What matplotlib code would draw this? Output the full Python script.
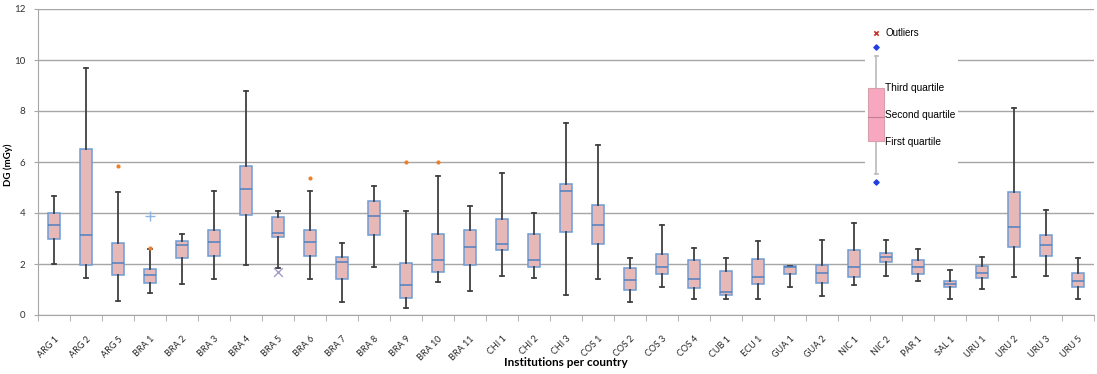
import numpy as np
import matplotlib.pyplot as plt

# Institutions and dose box statistics (mGy)
labels = ["ARG 1", "ARG 2", "ARG 5", "BRA 1", "BRA 2", "BRA 3", "BRA 4", "BRA 5", "BRA 6",
          "BRA 7", "BRA 8", "BRA 9", "BRA 10", "BRA 11", "CHI 1", "CHI 2", "CHI 3", "COS 1",
          "COS 2", "COS 3", "COS 4", "CUB 1", "ECU 1", "GUA 1", "GUA 2", "NIC 1", "NIC 2",
          "PAR 1", "SAL 1", "URU 1", "URU 2", "URU 3", "URU 5"]
whis_low = [1.99, 1.44, 0.56, 0.88, 1.20, 1.42, 1.96, 1.86, 1.42, 0.52, 1.89, 0.26, 1.29,
            0.94, 1.54, 1.46, 0.78, 1.42, 0.52, 1.09, 0.63, 0.64, 0.64, 1.09, 0.75, 1.18,
            1.54, 1.33, 0.64, 1.02, 1.50, 1.54, 0.64]
q1 = [2.97, 1.96, 1.56, 1.27, 2.22, 2.33, 3.91, 3.06, 2.33, 1.42, 3.15, 0.68, 1.67,
      1.96, 2.56, 1.89, 3.27, 2.78, 0.98, 1.61, 1.05, 0.77, 1.20, 1.61, 1.27, 1.50,
      2.09, 1.61, 1.09, 1.44, 2.65, 2.33, 1.09]
median = [3.53, 3.15, 2.03, 1.56, 2.75, 2.88, 4.94, 3.23, 2.88, 2.09, 3.88, 1.18, 2.14,
          2.65, 2.80, 2.14, 4.86, 3.52, 1.37, 1.87, 1.42, 0.92, 1.50, 1.88, 1.66, 1.89,
          2.26, 1.89, 1.22, 1.64, 3.44, 2.75, 1.33]
q3 = [3.99, 6.51, 2.82, 1.79, 2.90, 3.33, 5.86, 3.83, 3.33, 2.26, 4.47, 2.04, 3.16,
      3.33, 3.75, 3.18, 5.14, 4.31, 1.83, 2.39, 2.14, 1.71, 2.20, 1.92, 1.96, 2.55,
      2.42, 2.17, 1.35, 1.91, 4.84, 3.14, 1.66]
whis_high = [4.68, 9.70, 4.81, 2.60, 3.16, 4.85, 8.78, 4.08, 4.85, 2.81, 5.05, 4.08, 5.46,
             4.29, 5.58, 3.99, 7.54, 6.68, 2.25, 3.53, 2.61, 2.25, 2.91, 1.93, 2.94, 3.61,
             2.94, 2.59, 1.76, 2.26, 8.10, 4.10, 2.22]

# outliers: (institution, value)
orange_out = [("ARG 5", 5.84), ("BRA 1", 2.63), ("BRA 6", 5.36), ("BRA 9", 6.01), ("BRA 10", 6.01)]
plus_out = [("BRA 1", 3.90)]
cross_out = [("BRA 5", 1.70)]

plt.rcParams['font.family'] = ['Lato', 'DejaVu Sans']

fig = plt.figure(figsize=(10.97, 3.74), dpi=100)
ax = fig.add_axes([38 / 1097, 1 - 315 / 374, (1094 - 38) / 1097, (315 - 9) / 374])

stats = []
for i in range(len(labels)):
    stats.append(dict(whislo=whis_low[i], q1=q1[i], med=median[i], q3=q3[i],
                      whishi=whis_high[i], fliers=[]))
pos = np.arange(len(labels))
ax.bxp(stats, positions=pos, widths=0.4, patch_artist=True, showfliers=False,
       boxprops=dict(facecolor='#E6B9B8', edgecolor='#6F9BD6', linewidth=1.1),
       medianprops=dict(color='#4F7FC0', linewidth=1.1),
       whiskerprops=dict(color='#404040', linewidth=1.3),
       capprops=dict(color='#404040', linewidth=1.3), capwidths=0.12)

def out_xy(items):
    return [labels.index(n) for n, _ in items], [v for _, v in items]

x, y = out_xy(orange_out)
ax.scatter(x, y, s=9, color='#F07F2A', zorder=4, linewidths=0)
x, y = out_xy(plus_out)
ax.scatter(x, y, s=45, marker='+', color='#8EB4E3', zorder=4, linewidths=1)
x, y = out_xy(cross_out)
ax.scatter(x, y, s=40, marker='x', color='#A59BC9', zorder=4, linewidths=1)

ax.set_xlim(-0.5, len(labels) - 0.5)
ax.set_ylim(0, 12)
ax.set_yticks(np.arange(0, 13, 2))
ax.yaxis.grid(True, color='#A6A6A6', linewidth=1)
ax.set_axisbelow(True)
for s in ['top', 'right']:
    ax.spines[s].set_visible(False)
ax.spines['left'].set_color('#A6A6A6')
ax.spines['bottom'].set_color('#A6A6A6')
ax.tick_params(axis='y', length=3, color='#A6A6A6', labelsize=7, labelcolor='#333333', pad=6)

ax.set_xticks(pos)
ax.set_xticklabels(labels, rotation=45, ha='right', rotation_mode='anchor',
                   fontsize=6.5, color='#262626')
ax.set_xticks(np.arange(-0.5, len(labels), 1), minor=True)
ax.tick_params(axis='x', which='major', length=0, pad=14)
ax.tick_params(axis='x', which='minor', length=4, color='#A6A6A6')

ax.set_xlabel("Institutions per country", fontsize=8.5, fontweight='bold')
ax.xaxis.set_label_coords(0.5, -(357 - 315) / 306)
ax.set_ylabel("DG (mGy)", fontsize=7, fontweight='bold')
ax.yaxis.set_label_coords(-(38 - 13) / 1056, (315 - 165) / 306)

# key explaining the box symbols, drawn in pixel-like units
key = fig.add_axes([865 / 1097, 1 - 190 / 374, 93 / 1097, 168 / 374])
key.set_xlim(0, 93)
key.set_ylim(190, 22)
key.axis('off')
key.add_patch(plt.Rectangle((0, 22), 93, 168, facecolor='white', edgecolor='none', zorder=0))
key.plot([11, 11], [56, 174], color='#BFBFBF', linewidth=1.3, zorder=1)
key.plot([9.5, 12.5], [56, 56], color='#BFBFBF', linewidth=1.3)
key.plot([9.5, 12.5], [174, 174], color='#BFBFBF', linewidth=1.3)
key.add_patch(plt.Rectangle((3, 87.5), 15.5, 53, facecolor='#F7A8C0', edgecolor='#D9A0AC',
                            linewidth=0.8, zorder=2))
key.plot([3, 18.5], [117, 117], color='#C08090', linewidth=0.8, zorder=3)
key.scatter([11], [32.5], marker='x', s=10, color='#C0392B', linewidths=1.2, zorder=3)
key.scatter([11, 11], [46.5, 181.5], marker='D', s=7, color='#1F3FE0', zorder=3)
key.text(20, 32.5, "Outliers", fontsize=7, va='center', family=['Liberation Sans Narrow', 'Liberation Sans'])
for txt, yy in [("Third quartile", 88), ("Second quartile", 115), ("First quartile", 142)]:
    key.text(20, yy, txt, fontsize=7.3, va='center', family=['Liberation Sans Narrow', 'Liberation Sans'])

fig.savefig("out.png", dpi=100)
